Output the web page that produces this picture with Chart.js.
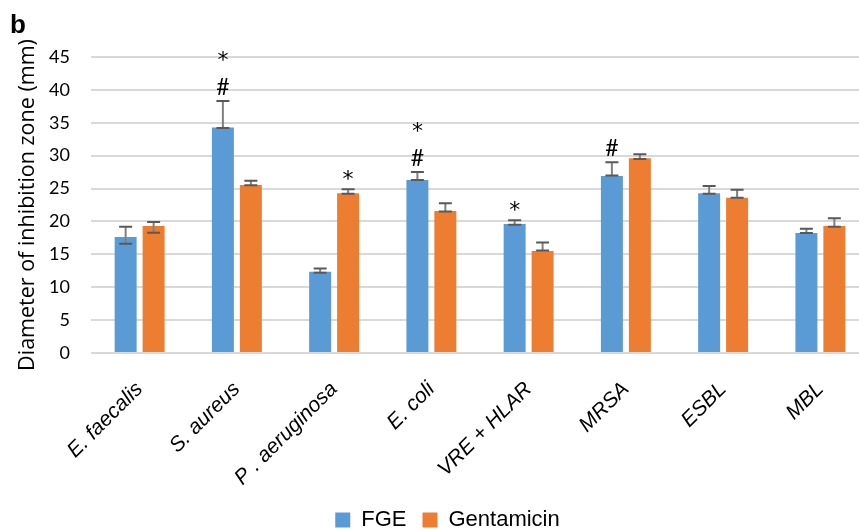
<!DOCTYPE html>
<html lang="en">
<head>
  <meta charset="UTF-8" />
  <title>Inhibition zone chart</title>
  <script src="https://cdn.jsdelivr.net/npm/chart.js"></script>
  <style>
    html, body { margin: 0; padding: 0; background: #fff; overflow: hidden; }
    .wrap { position: relative; width: 859px; height: 530px; overflow: hidden; }
    .panel {
      position: absolute; left: 10px; top: 11px;
      font: bold 26px "Liberation Sans", Arial, sans-serif; line-height: 26px; color: #000;
    }
    canvas { position: absolute; left: 0; top: 0; }
  </style>
</head>
<body>
  <div class="wrap">
    <canvas id="chart" width="950" height="541"></canvas>
    <div class="panel">b</div>
  </div>

  <script>
    // categories + values
    const categories = ['E. faecalis', 'S. aureus', 'P . aeruginosa', 'E. coli', 'VRE + HLAR', 'MRSA', 'ESBL', 'MBL'];
    const fgeValues  = [17.65, 34.3, 12.35, 26.3, 19.6, 26.9, 24.3, 18.25];
    const gentValues = [19.3, 25.55, 24.3, 21.6, 15.5, 29.6, 23.6, 19.3];

    // error bar ends (low / high)
    const fgeErrLo  = [16.6, 34.2, 12.2, 26.3, 19.5, 27.0, 24.2, 18.25];
    const fgeErrHi  = [19.2, 38.3, 12.85, 27.5, 20.2, 29.0, 25.4, 18.9];
    const gentErrLo = [18.3, 25.5, 24.2, 21.5, 15.6, 29.5, 23.6, 19.2];
    const gentErrHi = [19.9, 26.2, 24.9, 22.75, 16.8, 30.2, 24.8, 20.5];

    // significance marks, listed top to bottom
    const fgeMarks  = ['', '*#', '', '*#', '*', '#', '', ''];
    const gentMarks = ['', '', '*', '', '', '', '', ''];

    const yTicks = [0, 5, 10, 15, 20, 25, 30, 35, 40, 45];

    const errLo = [fgeErrLo, gentErrLo];
    const errHi = [fgeErrHi, gentErrHi];
    const marks = [fgeMarks, gentMarks];

    const errorBars = {
      id: 'errorBars',
      afterDatasetsDraw(chart) {
        const ctx = chart.ctx;
        const y = chart.scales.y;
        ctx.save();
        chart.data.datasets.forEach((ds, i) => {
          chart.getDatasetMeta(i).data.forEach((bar, j) => {
            const top = y.getPixelForValue(errHi[i][j]);
            const bot = y.getPixelForValue(errLo[i][j]);
            ctx.strokeStyle = '#808080';
            ctx.lineWidth = 2;
            ctx.beginPath();
            ctx.moveTo(bar.x, top);
            ctx.lineTo(bar.x, bot);
            ctx.stroke();
            ctx.strokeStyle = '#595959';
            ctx.beginPath();
            ctx.moveTo(bar.x - 6.5, top); ctx.lineTo(bar.x + 6.5, top);
            ctx.moveTo(bar.x - 6.5, bot); ctx.lineTo(bar.x + 6.5, bot);
            ctx.stroke();

            // significance symbols above the error bar
            const m = marks[i][j];
            if (m) {
              ctx.fillStyle = '#000';
              ctx.textAlign = 'center';
              ctx.textBaseline = 'alphabetic';
              const chars = m.split('').reverse();
              chars.forEach((c, k) => {
                const base = top - 6 - k * 31;
                if (c === '*') {
                  ctx.font = '22px "DejaVu Sans", sans-serif';
                  ctx.fillText(c, bar.x, base + 3);
                } else {
                  ctx.font = '23px Lato, sans-serif';
                  ctx.fillText(c, bar.x, base);
                }
              });
            }
          });
        });
        ctx.restore();
      }
    };

    new Chart(document.getElementById('chart'), {
      type: 'bar',
      data: {
        labels: categories,
        datasets: [
          { label: 'FGE', data: fgeValues, backgroundColor: '#5b9bd5' },
          { label: 'Gentamicin', data: gentValues, backgroundColor: '#ed7d31' }
        ]
      },
      options: {
        responsive: false,
        animation: false,
        events: [],
        // left padding pushes the centred legend right; y axis width keeps the plot at x=91
        layout: { padding: { top: 57, right: 81, bottom: 0, left: 26 } },
        datasets: { bar: { categoryPercentage: 0.575, barPercentage: 0.786 } },
        scales: {
          x: {
            grid: { display: false },
            border: { display: false },
            ticks: {
              autoSkip: false, maxRotation: 45, minRotation: 45, padding: 16,
              color: '#000',
              font: { family: '"Liberation Sans", Arial, sans-serif', size: 21, style: 'italic' }
            },
            afterFit(scale) { scale.height = 140; }
          },
          y: {
            min: 0, max: 45,
            afterBuildTicks(scale) { scale.ticks = yTicks.map(v => ({ value: v })); },
            grid: { color: '#d9d9d9', lineWidth: 2, drawTicks: false },
            border: { display: false },
            ticks: { padding: 21, color: '#000', font: { family: 'Lato, sans-serif', size: 18 } },
            title: {
              display: true,
              text: 'Diameter of inhibition zone (mm)',
              color: '#000',
              font: { family: '"Open Sans", sans-serif', size: 21.5 },
              padding: { top: -11, bottom: 0 }
            },
            afterFit(scale) { scale.width = 65; }
          }
        },
        plugins: {
          legend: {
            position: 'bottom',
            labels: {
              boxWidth: 15, boxHeight: 15, padding: 16, color: '#000',
              font: { family: '"Liberation Sans", Arial, sans-serif', size: 22 }
            }
          },
          tooltip: { enabled: false }
        }
      },
      plugins: [errorBars]
    });
  </script>
</body>
</html>
